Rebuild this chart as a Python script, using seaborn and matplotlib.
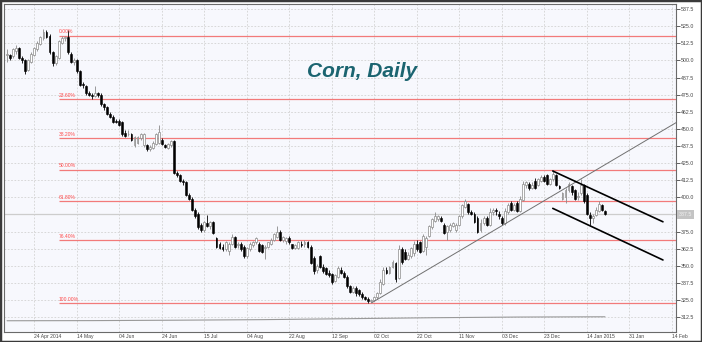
import seaborn as sns
import pandas as pd
import numpy as np
import matplotlib.pyplot as plt
import matplotlib.transforms as mtransforms
from matplotlib.patches import Rectangle

# daily OHLC, corn futures, Apr 2014 - Jan 2015 (one value per trading day)
opens = [504, 504, 503, 507, 509, 502, 500, 493, 499, 504,
         508, 512, 516, 521, 518, 506, 498, 502, 513, 516,
         517, 505, 499, 500, 492, 483, 481, 476, 475, 474,
         476, 475, 468, 466, 461, 459, 456, 456, 455, 447,
         446, 446, 438, 440, 443, 438, 438, 435, 436, 439,
         440, 442, 438, 436, 438, 441, 418, 416, 412, 411,
         402, 399, 391, 388, 380, 376, 381, 379, 382, 370,
         366, 364, 362, 361, 366, 371, 365, 366, 364, 357,
         362, 365, 367, 366, 365, 363, 364, 366, 369, 371,
         375, 369, 368, 370, 366, 363, 363, 366, 366, 367,
         364, 356, 347, 357, 349, 348, 345, 344, 339, 342,
         347, 345, 342, 335, 331, 334, 332, 329, 327, 326,
         324, 325, 327, 330, 337, 347, 345, 349, 352, 341,
         362, 360, 355, 357, 359, 366, 367, 361, 364, 372,
         378, 383, 384, 385, 380, 375, 376, 379, 376, 380,
         386, 393, 395, 389, 388, 385, 376, 381, 385, 380,
         389, 391, 388, 385, 381, 389, 396, 391, 396, 390,
         398, 409, 410, 407, 412, 409, 412, 415, 416, 410,
         413, 416, 408, 399, 400, 405, 408, 405, 400, 403,
         409, 402, 387, 385, 387, 390, 394, 390]
highs = [508, 505, 509, 511, 510, 503, 501, 501, 506, 510,
         514, 518, 523, 522, 519, 507, 504, 515, 518, 518,
         522, 506, 502, 501, 493, 484, 482, 478, 476, 481,
         477, 476, 469, 467, 462, 460, 457, 457, 456, 449,
         449, 447, 445, 445, 447, 447, 439, 438, 441, 447,
         453, 443, 439, 440, 442, 442, 419, 417, 413, 412,
         403, 400, 392, 389, 381, 383, 387, 383, 383, 371,
         367, 366, 368, 367, 373, 372, 367, 367, 365, 364,
         367, 368, 371, 367, 366, 365, 367, 370, 374, 379,
         376, 372, 371, 372, 366, 366, 368, 368, 369, 368,
         365, 357, 351, 358, 351, 349, 347, 345, 344, 350,
         349, 346, 343, 336, 335, 335, 333, 331, 328, 327,
         326, 328, 331, 340, 349, 349, 350, 354, 353, 365,
         364, 362, 360, 364, 368, 369, 368, 373, 372, 380,
         385, 389, 387, 386, 381, 380, 381, 382, 381, 387,
         395, 399, 396, 391, 389, 386, 384, 386, 386, 392,
         392, 392, 390, 386, 392, 396, 397, 396, 397, 401,
         412, 412, 411, 411, 414, 414, 416, 416, 417, 414,
         420, 417, 409, 404, 407, 411, 409, 406, 404, 413,
         410, 403, 389, 388, 393, 397, 395, 391]
lows = [499, 500, 502, 505, 501, 498, 490, 492, 498, 503,
        507, 511, 515, 516, 505, 496, 497, 501, 512, 514,
        505, 498, 497, 491, 481, 480, 475, 474, 472, 473,
        473, 467, 464, 460, 458, 454, 454, 452, 445, 444,
        445, 441, 437, 439, 442, 437, 434, 434, 435, 438,
        439, 438, 436, 435, 437, 417, 415, 411, 409, 401,
        398, 390, 385, 377, 375, 375, 378, 377, 373, 363,
        362, 361, 361, 358, 365, 363, 363, 361, 356, 356,
        361, 364, 366, 360, 359, 355, 363, 365, 368, 370,
        368, 367, 366, 366, 362, 362, 362, 364, 364, 363,
        351, 344, 345, 348, 345, 343, 342, 337, 338, 341,
        344, 341, 334, 330, 330, 328, 328, 326, 325, 323,
        322.5, 324, 326, 329, 336, 344, 344, 348, 338, 340,
        351, 354, 354, 356, 357, 361, 359, 360, 358, 371,
        377, 382, 383, 382, 373, 369, 375, 378, 375, 379,
        385, 392, 388, 387, 381, 374, 375, 380, 379, 379,
        387, 387, 384, 380, 380, 388, 390, 390, 389, 389,
        397, 407, 405, 406, 406, 408, 411, 411, 409, 409,
        412, 408, 406, 398, 396, 404, 402, 398, 398, 402,
        396, 387, 380, 381, 386, 389, 390, 387]
closes = [504, 502, 508, 509, 502, 500, 492, 500, 505, 509,
          513, 517, 521, 517, 506, 498, 503, 514, 516, 517,
          506, 499, 500, 492, 482, 482, 476, 475, 474, 476,
          475, 468, 466, 461, 459, 455, 455, 453, 446, 445,
          446, 442, 444, 444, 446, 446, 435, 437, 440, 446,
          448, 439, 437, 439, 441, 418, 416, 412, 411, 402,
          399, 391, 386, 378, 376, 382, 379, 382, 374, 364,
          363, 362, 367, 366, 371, 364, 366, 362, 357, 363,
          366, 367, 370, 361, 360, 364, 367, 369, 373, 375,
          369, 371, 370, 367, 363, 365, 367, 365, 367, 364,
          352, 346, 350, 349, 346, 344, 343, 338, 343, 348,
          345, 342, 335, 331, 334, 330, 329, 327, 326, 324,
          325, 327, 330, 338, 347, 345, 349, 353, 340, 362,
          353, 355, 358, 363, 366, 362, 360, 372, 370, 379,
          384, 386, 386, 383, 374, 379, 380, 381, 380, 386,
          394, 397, 389, 388, 382, 375, 381, 385, 380, 389,
          391, 390, 386, 381, 390, 394, 391, 394, 390, 399,
          410, 411, 407, 409, 407, 413, 415, 412, 410, 413,
          417, 409, 407, 403, 405, 410, 404, 399, 401, 409,
          397, 388, 385, 386, 391, 395, 391, 387.5]

date_labels = ['24 Apr 2014', '14 May', '04 Jun', '24 Jun', '15 Jul', '04 Aug',
               '22 Aug', '12 Sep', '02 Oct', '22 Oct', '11 Nov', '03 Dec',
               '23 Dec', '14 Jan 2015', '31 Jan', '14 Feb']
first_label_bar = 9
bars_per_label = 14

fib_pct = [0.0, 23.6, 38.2, 50.0, 61.8, 76.4, 100.0]
fib_high = 518.0
fib_low = 322.5
fib_start_bar = 17.1

last_price = 387.5

# trendlines (bar index, price)
trend_x = [120.2, 220.4]
trend_y = [323.0, 454.5]
chan_top_x = [179.8, 216.1]
chan_top_y = [419.2, 382.1]
chan_bot_x = [179.8, 216.1]
chan_bot_y = [391.9, 354.2]

# slow indicator line drawn along the bottom
ind_x = [0, 28, 56, 84, 112, 140, 168, 197]
ind_y = [309.8, 309.9, 310.2, 310.6, 311.3, 312.0, 312.5, 312.7]

sns.set_theme(style="white")
plt.rcParams['font.family'] = ['Liberation Sans', 'DejaVu Sans']

df = pd.DataFrame({'open': opens, 'high': highs, 'low': lows, 'close': closes})
df['bar'] = np.arange(len(df))
up = df[df['close'] >= df['open']]
dn = df[df['close'] < df['open']]

fig = plt.figure(figsize=(7.02, 3.42), dpi=100)
ax = fig.add_axes([4 / 702, 10.3 / 342, 671.7 / 702, 327.7 / 342])
ax.set_facecolor('#f7f8fd')

xmax = 220.3
ax.set_xlim(-1, xmax)
ax.set_ylim(301.8, 541.2)

yt = np.arange(312.5, 540, 12.5)
xt = np.arange(len(date_labels)) * bars_per_label + first_label_bar
ax.set_yticks(yt)
# the last-price tag covers its own tick label
ax.set_yticklabels(['' if v == last_price else '%.1f' % v for v in yt])
ax.set_xticks(xt)
ax.set_xticklabels(date_labels, ha='left')
ax.yaxis.tick_right()
ax.tick_params(axis='y', length=3, width=0.6, pad=1, labelsize=3.8, colors='#444444')
ax.tick_params(axis='x', length=0, pad=2, labelsize=3.6, colors='#444444')
ax.grid(True, color='#d2d2d2', linestyle=(0, (2, 2)), lw=0.6)
ax.set_axisbelow(True)
for s in ax.spines.values():
    s.set_color('#6a6a6a')
    s.set_linewidth(0.8)

# fibonacci retracement
for p in fib_pct:
    lvl = fib_high - p / 100 * (fib_high - fib_low)
    ax.hlines(lvl, fib_start_bar, xmax, color='#f27a7a', lw=0.9, zorder=1)
    ax.text(fib_start_bar, lvl + 1.0, '%.2f%%' % p, fontsize=3.6, color='#ff4a4a',
            ha='left', va='bottom')

# last price line
ax.axhline(last_price, color='#cdcdcd', lw=0.9, zorder=1)

sns.lineplot(x=ind_x, y=ind_y, ax=ax, color='#999999', lw=0.8, zorder=1)

# candles
ax.vlines(up['bar'], up['low'], up['high'], color='#8a8a8a', lw=0.6, zorder=2)
ax.vlines(dn['bar'], dn['low'], dn['high'], color='black', lw=0.6, zorder=2)
ax.bar(up['bar'], np.maximum(up['close'] - up['open'], 0.5), bottom=up['open'], width=0.62,
       color='white', edgecolor='#8a8a8a', lw=0.5, zorder=3)
ax.bar(dn['bar'], dn['close'] - dn['open'], bottom=dn['open'], width=0.62,
       color='black', edgecolor='black', lw=0.4, zorder=3)

sns.lineplot(x=trend_x, y=trend_y, ax=ax, color='#707070', lw=0.7, zorder=4)
sns.lineplot(x=chan_top_x, y=chan_top_y, ax=ax, color='black', lw=1.2, zorder=4)
sns.lineplot(x=chan_bot_x, y=chan_bot_y, ax=ax, color='black', lw=1.2, zorder=4)

trans = mtransforms.blended_transform_factory(ax.transAxes, ax.transData)
ax.text(1.004, last_price, '%.1f' % last_price, transform=trans, fontsize=3.8,
        color='#f2f2f2', ha='left', va='center', zorder=6,
        bbox=dict(boxstyle='square,pad=0.35', fc='#c4c4c4', ec='none'))

fig.text(0.516, 0.792, 'Corn, Daily', fontsize=15, fontweight='bold', fontstyle='italic',
         color='#1b6470', ha='center', va='center')

fig.patches.append(Rectangle((0, 0), 1, 1, transform=fig.transFigure, fill=False,
                             edgecolor='#3a3a3a', lw=2.5))

fig.savefig('out.png', dpi=100)
